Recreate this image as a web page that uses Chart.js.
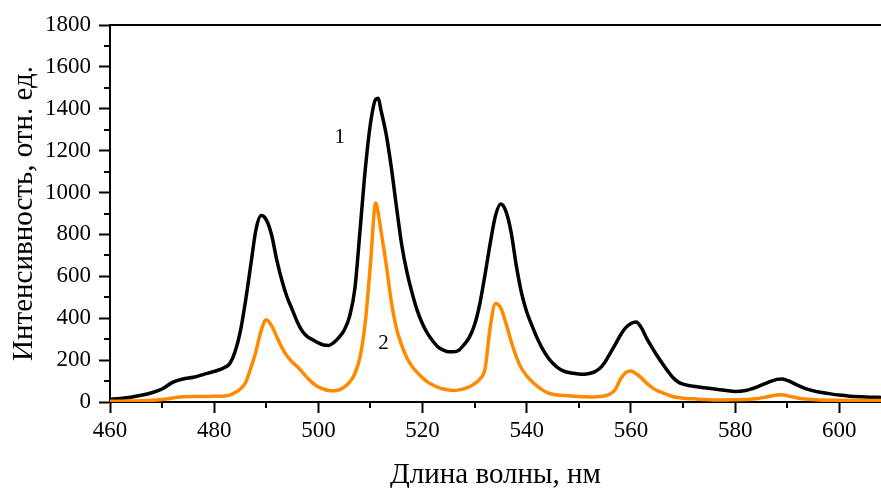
<!DOCTYPE html>
<html>
<head>
<meta charset="utf-8">
<script src="https://cdn.jsdelivr.net/npm/chart.js@4/dist/chart.umd.min.js"></script>
<style>
  html, body { margin: 0; padding: 0; background: #fff; }
</style>
</head>
<body>
<canvas id="chart" width="881" height="488"></canvas>
<script>
// Длина волны, нм
const wavelengths = [460, 462, 464, 466, 468, 470, 472, 474, 476, 478, 480, 482, 483, 484, 485, 486, 487, 488, 489, 490,
  491, 492, 493, 494, 495, 496, 497, 498, 499, 500, 501, 502, 503, 504, 505, 506, 507, 508, 509, 510,
  511, 511.5, 512, 513, 514, 515, 516, 517, 518, 519, 520, 521, 522, 523, 524, 525, 526, 527, 528, 529,
  530, 531, 532, 533, 534, 535, 536, 537, 538, 539, 540, 541, 542, 543, 544, 545, 546, 547, 548, 549,
  550, 551, 552, 553, 554, 555, 556, 557, 558, 559, 560, 561, 562, 563, 564, 565, 566, 567, 568, 569,
  570, 571, 572, 574, 576, 578, 580, 582, 584, 586, 588, 589, 590, 592, 594, 596, 598, 600, 602, 604,
  606, 608];

// кривая 1 (чёрная)
const curve1 = [13, 17, 23, 32, 44, 62, 94, 110, 118, 132, 146, 165, 184, 240, 335, 480, 650, 820, 890, 870,
  800, 680, 580, 500, 440, 380, 335, 310, 296, 282, 272, 270, 285, 310, 345, 410, 540, 820, 1110, 1330,
  1445, 1450, 1395, 1280, 1120, 930, 750, 620, 520, 435, 372, 325, 290, 262, 248, 240, 240, 248, 275, 310,
  370, 470, 610, 760, 890, 945, 910, 810, 650, 520, 430, 365, 305, 255, 215, 185, 163, 149, 141, 137,
  134, 133, 136, 144, 160, 190, 232, 275, 320, 355, 375, 382, 355, 305, 262, 222, 185, 150, 118, 97,
  85, 79, 75, 68, 62, 56, 50, 55, 70, 90, 108, 110, 103, 80, 60, 48, 40, 33, 28, 25,
  23, 22];

// кривая 2 (оранжевая)
const curve2 = [3, 4, 5, 6, 8, 12, 19, 25, 26, 26, 27, 29, 33, 45, 62, 92, 160, 240, 340, 393,
  365, 312, 260, 220, 190, 168, 140, 112, 89, 72, 62, 55, 54, 58, 72, 95, 135, 215, 380, 660,
  950, 900, 820, 660, 480, 350, 270, 210, 170, 140, 115, 95, 81, 70, 62, 57, 55, 58, 64, 73,
  88, 110, 160, 360, 470, 450, 376, 290, 216, 160, 125, 98, 76, 58, 44, 37, 33, 31, 30, 28,
  26, 25, 24, 24, 26, 30, 38, 60, 110, 140, 148, 135, 115, 90, 70, 55, 45, 35, 26, 21,
  18, 16, 15, 12, 10, 10, 11, 12, 15, 24, 33, 35, 30, 19, 13, 10, 8, 8, 7, 7,
  7, 7];

const xTicks = [460, 480, 500, 520, 540, 560, 580, 600];
const xMinor = [470, 490, 510, 530, 550, 570, 590];
const yTicks = [0, 200, 400, 600, 800, 1000, 1200, 1400, 1600, 1800];
const yMinor = [100, 300, 500, 700, 900, 1100, 1300, 1500, 1700];

const curveLabels = [
  { text: '1', x: 504.1, y: 1265 },
  { text: '2', x: 512.5, y: 277 }
];

const FONT = "'Liberation Serif', 'Times New Roman', serif";

// малые деления, верхняя рамка и подписи кривых
const extras = {
  id: 'extras',
  afterDraw(chart) {
    const { ctx, chartArea: a, scales: { x, y } } = chart;
    ctx.save();
    ctx.strokeStyle = '#000';
    ctx.lineWidth = 2;
    ctx.beginPath();
    xMinor.forEach(v => {
      const px = Math.round(x.getPixelForValue(v));
      ctx.moveTo(px, a.bottom);
      ctx.lineTo(px, a.bottom + 6);
    });
    yMinor.forEach(v => {
      const py = Math.round(y.getPixelForValue(v));
      ctx.moveTo(a.left, py);
      ctx.lineTo(a.left - 6, py);
    });
    ctx.moveTo(a.left, a.top);
    ctx.lineTo(a.right, a.top);
    ctx.stroke();

    ctx.fillStyle = '#000';
    ctx.font = '21px ' + FONT;
    ctx.textAlign = 'center';
    ctx.textBaseline = 'middle';
    curveLabels.forEach(l => ctx.fillText(l.text, x.getPixelForValue(l.x), y.getPixelForValue(l.y)));
    ctx.restore();
  }
};

const tickFont = { family: FONT, size: 23 };
const titleFont = { family: FONT, size: 29, lineHeight: 0.9 };

const ctx = document.getElementById('chart').getContext('2d');
const chart = new Chart(ctx, {
  type: 'line',
  data: {
    datasets: [
      {
        label: '1',
        data: wavelengths.map((w, i) => ({ x: w, y: curve1[i] })),
        borderColor: '#000000',
        borderWidth: 3.5,
        pointRadius: 0,
        cubicInterpolationMode: 'monotone',
        fill: false,
        order: 1
      },
      {
        label: '2',
        data: wavelengths.map((w, i) => ({ x: w, y: curve2[i] })),
        borderColor: '#ff8a00',
        borderWidth: 3.5,
        pointRadius: 0,
        cubicInterpolationMode: 'monotone',
        fill: false,
        order: 0
      }
    ]
  },
  options: {
    responsive: false,
    animation: false,
    devicePixelRatio: 1,
    layout: { padding: { top: 25, right: 0, bottom: 0, left: 0 } },
    plugins: { legend: { display: false }, tooltip: { enabled: false } },
    scales: {
      x: {
        type: 'linear',
        min: 460,
        max: 608,
        afterBuildTicks: s => { s.ticks = xTicks.map(v => ({ value: v })); },
        afterFit: s => { s.height = 86; },
        ticks: { font: tickFont, color: '#000', padding: 4, maxRotation: 0, callback: v => String(v) },
        grid: { drawOnChartArea: false, tickLength: 11, tickWidth: 2, tickColor: '#000' },
        border: { color: '#000', width: 2 },
        title: { display: true, text: 'Длина волны, нм', font: titleFont, color: '#000', padding: { top: 0, bottom: 0 } }
      },
      y: {
        min: 0,
        max: 1800,
        afterBuildTicks: s => { s.ticks = yTicks.map(v => ({ value: v })); },
        afterFit: s => { s.width = 110; },
        ticks: { font: tickFont, color: '#000', padding: 8, callback: v => String(v) },
        grid: { drawOnChartArea: false, tickLength: 11, tickWidth: 2, tickColor: '#000' },
        border: { color: '#000', width: 2 },
        title: { display: true, text: 'Интенсивность, отн. ед.', font: titleFont, color: '#000', padding: { top: 11, bottom: 0 } }
      }
    }
  },
  plugins: [extras]
});
</script>
</body>
</html>
